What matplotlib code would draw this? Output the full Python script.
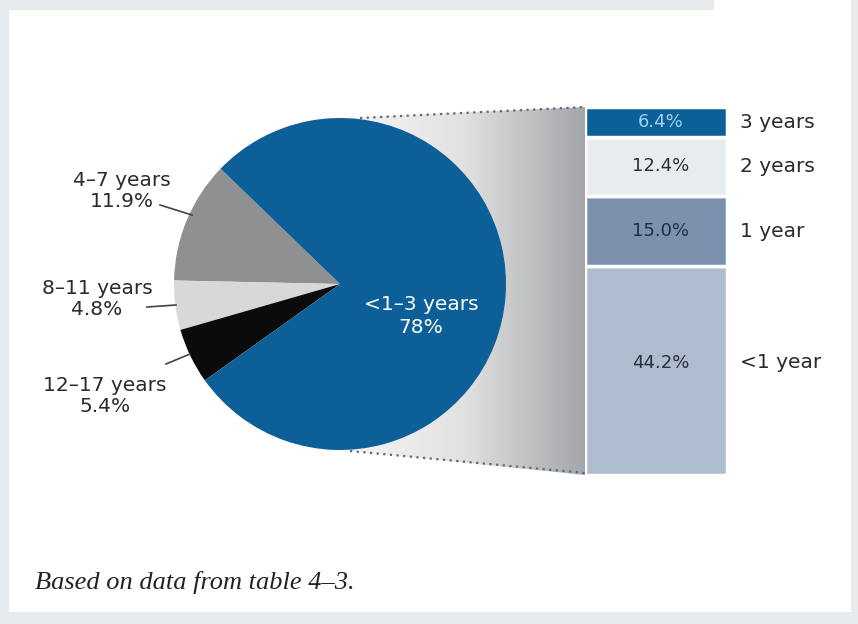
import matplotlib
matplotlib.use("Agg")
import matplotlib.pyplot as plt
import numpy as np
from matplotlib.patches import Rectangle, Polygon
from matplotlib.colors import LinearSegmentedColormap

# ---- data ----
pie_labels = ["4–7 years", "8–11 years", "12–17 years", "<1–3 years"]
pie_values = [11.9, 4.8, 5.4, 78.0]
pie_colors = ["#8f9092", "#d6d8da", "#0b0b0b", "#0d5f98"]

bar_labels = ["<1 year", "1 year", "2 years", "3 years"]
bar_values = [44.2, 15.0, 12.4, 6.4]
bar_colors = ["#adbccf", "#7a92ad", "#e9ecef", "#0d5f98"]
bar_text_colors = ["#2b2f36", "#1f2f45", "#2b2f36", "#9fd3f2"]

caption = "Based on data from table 4–3."

W, H = 858, 624
fig = plt.figure(figsize=(W / 100, H / 100), dpi=100, facecolor="#e8ebee")
ax = fig.add_axes([0, 0, 1, 1])

def Y(y):
    return H - y

# geometry
cx, cy, r = 340, 284, 166
bx0, bx1, btop, bbot = 585, 727, 107, 475

# pie
wedges, _ = ax.pie(pie_values, colors=pie_colors, startangle=136, counterclock=True,
                   center=(cx, Y(cy)), radius=r, frame=True,
                   wedgeprops=dict(linewidth=0, zorder=3))
ax.set_xlim(0, W)
ax.set_ylim(0, H)
ax.set_aspect("auto")
ax.axis("off")

# background panel
ax.add_patch(Rectangle((9, Y(612)), 842, 602, facecolor="white", edgecolor="none", zorder=0))
ax.add_patch(Rectangle((714, Y(10)), 137, 10, facecolor="white", edgecolor="none", zorder=0))

# gradient connector
grad = np.linspace(0, 1, 256)[None, :]
cmap = LinearSegmentedColormap.from_list("g", ["#f6f6f6", "#e2e2e2", "#a3a6aa"])
im = ax.imshow(grad, cmap=cmap, extent=(cx, bx0, Y(bbot), Y(btop)), aspect="auto", zorder=1)
poly = Polygon([(cx, Y(cy - r)), (bx0, Y(btop)), (bx0, Y(bbot)), (cx, Y(cy + r))],
               closed=True, facecolor="none", edgecolor="none")
ax.add_patch(poly)
im.set_clip_path(poly)
ax.set_xlim(0, W)
ax.set_ylim(0, H)
ax.plot([360, bx0], [Y(118), Y(btop)], linestyle=(0, (1, 2)), color="#5a6a7c", lw=1.6, zorder=2)
ax.plot([350, bx0], [Y(451), Y(bbot - 2)], linestyle=(0, (1, 2)), color="#5a6a7c", lw=1.6, zorder=2)

fs = 14.5
ax.text(421, Y(316), pie_labels[3] + "\n78%", color="white", ha="center", va="center",
        fontsize=14.5, linespacing=1.25, zorder=5)

side = [
    (pie_labels[0], pie_values[0], (122, 191), [(160, 205), (192, 215)]),
    (pie_labels[1], pie_values[1], (97, 299), [(147, 307), (176, 305)]),
    (pie_labels[2], pie_values[2], (105, 396), [(166, 364), (190, 354)]),
]
for lab, val, (tx, ty), line in side:
    ax.text(tx, Y(ty), f"{lab}\n{val}%", ha="center", va="center", fontsize=fs,
            color="#2a2a2a", linespacing=1.15, zorder=5)
    ax.plot([p[0] for p in line], [Y(p[1]) for p in line], color="#444444", lw=1.2, zorder=5)

# stacked bar (zoom)
bax = fig.add_axes([bx0 / W, (H - bbot) / H, (bx1 - bx0) / W, (bbot - btop) / H])
bax.set_xlim(0, 1)
bax.set_ylim(0, sum(bar_values))
bax.axis("off")
label_shift = [1.7, 0, 0, 0]
bottom = 0
for lab, v, c, tc, sh in zip(bar_labels, bar_values, bar_colors, bar_text_colors, label_shift):
    bax.bar(0.5, v, width=1.0, bottom=bottom, color=c, edgecolor="white", linewidth=2.5)
    mid = bottom + v / 2 + sh
    bax.text(0.535, mid, f"{v:.1f}%", ha="center", va="center", fontsize=13, color=tc)
    bax.text(1.09, mid, lab, ha="left", va="center", fontsize=fs, color="#2a2a2a",
             clip_on=False)
    bottom += v

ax.text(35, Y(583), caption, fontsize=19, fontstyle="italic", family="Liberation Serif",
        color="#222222", ha="left", va="center")

fig.savefig("out.png", dpi=100, facecolor=fig.get_facecolor())
